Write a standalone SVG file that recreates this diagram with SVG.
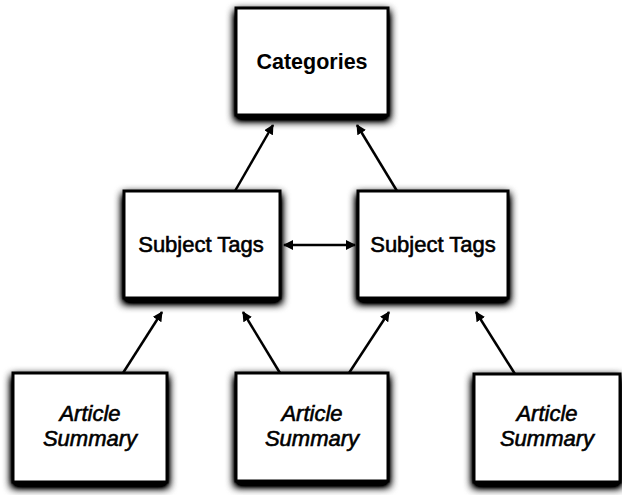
<svg xmlns="http://www.w3.org/2000/svg" width="622" height="495" viewBox="0 0 622 495">
<style>
.box{fill:#fff;stroke:#000;stroke-width:3;filter:url(#sh)}
.t{font-family:"Liberation Sans",Arial,sans-serif;font-size:22px;fill:#000;text-anchor:middle}
.b{font-weight:bold;font-size:21.5px}
.r{stroke:#000;stroke-width:0.6}
.i{font-style:italic}
.c{stroke:#000;stroke-width:2.5;fill:none;marker-end:url(#ah)}
</style>
<defs>
<filter id="sh" x="-20%" y="-20%" width="140%" height="150%">
<feGaussianBlur in="SourceAlpha" stdDeviation="4"/>
<feOffset dx="0" dy="4" result="b"/>
<feComponentTransfer><feFuncA type="linear" slope="1.8"/></feComponentTransfer>
<feMerge><feMergeNode/><feMergeNode in="SourceGraphic"/></feMerge>
</filter>
<marker id="ah" viewBox="0 0 10 10" refX="9" refY="5" markerWidth="4" markerHeight="4" orient="auto" markerUnits="strokeWidth">
<path d="M0,0 L10,5 L0,10 Z" fill="#000"/>
</marker>
<marker id="as" viewBox="0 0 10 10" refX="1" refY="5" markerWidth="4" markerHeight="4" orient="auto" markerUnits="strokeWidth">
<path d="M10,0 L0,5 L10,10 Z" fill="#000"/>
</marker>
</defs>
<g id="connectors">
<line class="c" x1="235" y1="191" x2="273" y2="125"/>
<line class="c" x1="397" y1="191" x2="357" y2="125"/>
<line class="c" x1="123" y1="373" x2="162" y2="312"/>
<line class="c" x1="280" y1="373" x2="243" y2="312"/>
<line class="c" x1="349" y1="373" x2="389" y2="312"/>
<line class="c" x1="515" y1="374" x2="476" y2="312"/>
<line class="c" x1="284" y1="245" x2="355" y2="245" marker-start="url(#as)"/>
</g>
<g id="categories">
<rect class="box" x="236" y="8" width="152" height="107"/>
<text class="t b" x="312" y="69">Categories</text>
</g>
<g id="subject-tags-1">
<rect class="box" x="124" y="191" width="156" height="107"/>
<text class="t r" x="201" y="252">Subject Tags</text>
</g>
<g id="subject-tags-2">
<rect class="box" x="358" y="191" width="150" height="107"/>
<text class="t r" x="433" y="252">Subject Tags</text>
</g>
<g id="article-1">
<rect class="box" x="13" y="373" width="154" height="109"/>
<text class="t i r" x="90" y="421">Article</text>
<text class="t i r" x="90" y="446">Summary</text>
</g>
<g id="article-2">
<rect class="box" x="236" y="373" width="152" height="108"/>
<text class="t i r" x="312" y="421">Article</text>
<text class="t i r" x="312" y="446">Summary</text>
</g>
<g id="article-3">
<rect class="box" x="474" y="374" width="146" height="108"/>
<text class="t i r" x="547" y="421">Article</text>
<text class="t i r" x="547" y="446">Summary</text>
</g>
</svg>
